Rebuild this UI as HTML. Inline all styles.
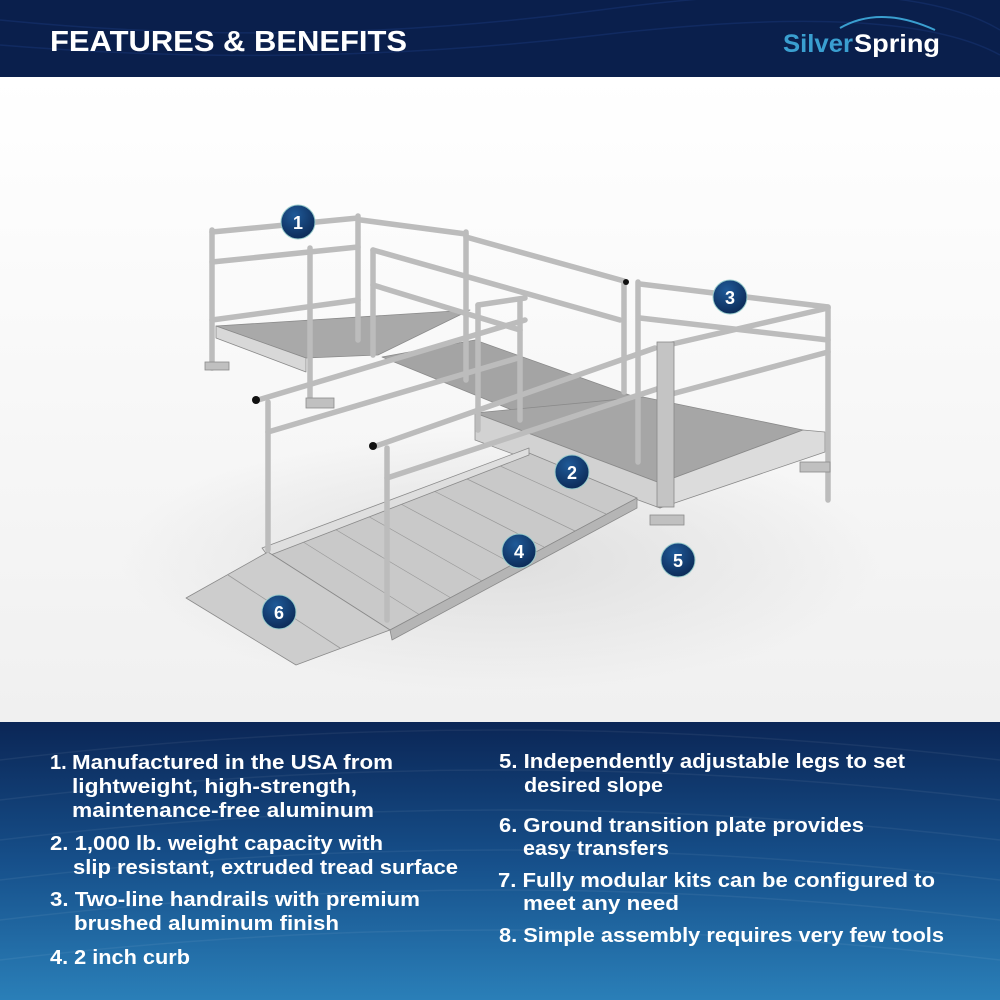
<!DOCTYPE html>
<html><head><meta charset="utf-8"><style>
html,body{margin:0;padding:0;width:1000px;height:1000px;overflow:hidden;background:#fff}
svg{display:block}
</style></head><body>
<svg width="1000" height="1000" viewBox="0 0 1000 1000" xmlns="http://www.w3.org/2000/svg" font-family="Liberation Sans, sans-serif">
<defs>
<linearGradient id="bot" x1="0" y1="0" x2="0" y2="1">
<stop offset="0" stop-color="#0b2656"/><stop offset="0.5" stop-color="#164f8a"/><stop offset="1" stop-color="#2a7fb8"/></linearGradient>
<linearGradient id="bg" x1="0" y1="0" x2="0" y2="1">
<stop offset="0" stop-color="#ffffff"/><stop offset="1" stop-color="#f0f0f0"/></linearGradient>
<radialGradient id="badge" cx="0.4" cy="0.3" r="0.8">
<stop offset="0" stop-color="#1f5a98"/><stop offset="1" stop-color="#0a2550"/></radialGradient>
<radialGradient id="shadow" cx="0.5" cy="0.5" r="0.5">
<stop offset="0" stop-color="#dedede"/><stop offset="1" stop-color="#dedede" stop-opacity="0"/></radialGradient>
<clipPath id="hc"><rect x="0" y="0" width="1000" height="77"/></clipPath>
</defs>
<rect x="0" y="77" width="1000" height="646" fill="url(#bg)"/>
<ellipse cx="500" cy="560" rx="380" ry="130" fill="url(#shadow)"/>
<!-- header -->
<rect x="0" y="0" width="1000" height="77" fill="#0a1f4c"/>
<g stroke="#15306a" stroke-width="1.5" fill="none" opacity="0.7" clip-path="url(#hc)">
<path d="M0 20 Q300 50 600 10 T1000 30"/><path d="M0 45 Q300 70 600 35 T1000 55"/>
</g>
<text x="50" y="51" font-size="29" font-weight="bold" fill="#fff" textLength="357" lengthAdjust="spacingAndGlyphs">FEATURES &amp; BENEFITS</text>
<path d="M840 28 Q880 5 935 30" stroke="#3a9fd0" stroke-width="2" fill="none"/>
<text x="783" y="52" font-size="25" font-weight="bold" fill="#3a9fd0" textLength="70" lengthAdjust="spacingAndGlyphs">Silver</text>
<text x="854" y="52" font-size="25" font-weight="bold" fill="#fff" textLength="86" lengthAdjust="spacingAndGlyphs">Spring</text>

<!-- ramp drawing -->
<g stroke="#8a8a8a" stroke-width="0.8" stroke-linejoin="round">
<polygon points="216,326 470,310 378,355 306,358" fill="#a9a9a9"/>
<polygon points="216,326 306,358 306,372 216,338" fill="#d8d8d8"/>
<polygon points="382,357 475,340 635,397 529,417" fill="#a4a4a4"/>
<polygon points="475,413 643,397 803,430 660,483" fill="#a6a6a6"/>
<polygon points="660,483 803,430 825,432 825,452 660,508" fill="#dcdcdc"/>
<polygon points="475,413 660,483 660,508 475,440" fill="#d2d2d2"/>
<polygon points="268,552 529,453 637,498 390,630" fill="#c9c9c9"/>
<g stroke="#9a9a9a" stroke-width="0.7">
<line x1="300" y1="540" x2="420" y2="615"/><line x1="333" y1="528" x2="451" y2="598"/><line x1="366" y1="515" x2="482" y2="581"/>
<line x1="399" y1="503" x2="513" y2="564"/><line x1="432" y1="490" x2="544" y2="547"/><line x1="465" y1="478" x2="575" y2="531"/><line x1="498" y1="465" x2="606" y2="514"/>
</g>
<polygon points="390,630 637,498 637,508 392,640" fill="#b5b5b5"/>
<polygon points="262,548 529,448 529,455 268,556" fill="#dedede"/>
<polygon points="186,598 268,552 390,630 296,665" fill="#cdcdcd"/>
<line x1="228" y1="575" x2="340" y2="648" stroke="#9a9a9a"/>
</g>
<g stroke="#bcbcbc" stroke-width="5.5" stroke-linecap="round" fill="none">
<line x1="212" y1="230" x2="212" y2="368"/>
<line x1="358" y1="216" x2="358" y2="340"/>
<line x1="310" y1="248" x2="310" y2="400"/>
<line x1="373" y1="250" x2="373" y2="355"/>
<line x1="466" y1="232" x2="466" y2="380"/>
<line x1="624" y1="282" x2="624" y2="392"/>
<line x1="212" y1="232" x2="358" y2="218"/>
<line x1="212" y1="262" x2="358" y2="247"/>
<line x1="361" y1="220" x2="466" y2="234"/>
<line x1="466" y1="237" x2="624" y2="281"/>
<line x1="373" y1="250" x2="620" y2="320"/>
<line x1="373" y1="285" x2="520" y2="330"/>
<line x1="212" y1="320" x2="358" y2="300"/>
<line x1="478" y1="305" x2="525" y2="298"/>
<line x1="478" y1="305" x2="478" y2="430"/>
<line x1="520" y1="300" x2="520" y2="420"/>
<line x1="638" y1="282" x2="638" y2="462"/>
<line x1="828" y1="307" x2="828" y2="500"/>
<line x1="640" y1="284" x2="828" y2="307"/>
<line x1="640" y1="318" x2="828" y2="340"/>
<line x1="668" y1="345" x2="828" y2="308"/>
<line x1="668" y1="395" x2="828" y2="352"/>
<line x1="258" y1="400" x2="525" y2="320"/>
<line x1="268" y1="432" x2="518" y2="358"/>
<line x1="268" y1="402" x2="268" y2="550"/>
<line x1="376" y1="446" x2="655" y2="348"/>
<line x1="387" y1="478" x2="660" y2="388"/>
<line x1="387" y1="448" x2="387" y2="620"/>
</g>
<rect x="657" y="342" width="17" height="165" fill="#c4c4c4" stroke="#8a8a8a" stroke-width="0.8"/>
<g fill="#c0c0c0" stroke="#8a8a8a" stroke-width="0.8">
<rect x="205" y="362" width="24" height="8"/><rect x="306" y="398" width="28" height="10"/>
<rect x="650" y="515" width="34" height="10"/><rect x="800" y="462" width="30" height="10"/>
</g>
<circle cx="256" cy="400" r="4" fill="#111"/><circle cx="373" cy="446" r="4" fill="#111"/><circle cx="626" cy="282" r="3" fill="#111"/>

<g font-size="18" font-weight="bold" fill="#fff" text-anchor="middle">
<g><circle cx="298" cy="222" r="17" fill="url(#badge)" stroke="#9cc" stroke-width="1"/><text x="298" y="229">1</text></g>
<g><circle cx="572" cy="472" r="17" fill="url(#badge)" stroke="#9cc" stroke-width="1"/><text x="572" y="479">2</text></g>
<g><circle cx="730" cy="297" r="17" fill="url(#badge)" stroke="#9cc" stroke-width="1"/><text x="730" y="304">3</text></g>
<g><circle cx="519" cy="551" r="17" fill="url(#badge)" stroke="#9cc" stroke-width="1"/><text x="519" y="558">4</text></g>
<g><circle cx="678" cy="560" r="17" fill="url(#badge)" stroke="#9cc" stroke-width="1"/><text x="678" y="567">5</text></g>
<g><circle cx="279" cy="612" r="17" fill="url(#badge)" stroke="#9cc" stroke-width="1"/><text x="279" y="619">6</text></g>
</g>

<rect x="0" y="722" width="1000" height="278" fill="url(#bot)"/>
<g stroke="#ffffff" stroke-opacity="0.06" stroke-width="1.5" fill="none">
<path d="M0 760 Q500 700 1000 760"/><path d="M0 800 Q500 740 1000 800"/><path d="M0 840 Q500 780 1000 840"/><path d="M0 880 Q500 820 1000 880"/><path d="M0 920 Q500 860 1000 920"/><path d="M0 960 Q500 900 1000 960"/>
</g>
<g font-size="20" font-weight="bold" fill="#fff">
<text x="50" y="769">1.</text>
<text x="72" y="769" textLength="321" lengthAdjust="spacingAndGlyphs">Manufactured in the USA from</text>
<text x="72" y="793" textLength="285" lengthAdjust="spacingAndGlyphs">lightweight, high-strength,</text>
<text x="72" y="817" textLength="302" lengthAdjust="spacingAndGlyphs">maintenance-free aluminum</text>
<text x="50" y="850" textLength="333" lengthAdjust="spacingAndGlyphs">2. 1,000 lb. weight capacity with</text>
<text x="73" y="874" textLength="385" lengthAdjust="spacingAndGlyphs">slip resistant, extruded tread surface</text>
<text x="50" y="906" textLength="370" lengthAdjust="spacingAndGlyphs">3. Two-line handrails with premium</text>
<text x="74" y="930" textLength="265" lengthAdjust="spacingAndGlyphs">brushed aluminum finish</text>
<text x="50" y="964" textLength="140" lengthAdjust="spacingAndGlyphs">4. 2 inch curb</text>
<text x="499" y="768" textLength="406" lengthAdjust="spacingAndGlyphs">5. Independently adjustable legs to set</text>
<text x="524" y="792" textLength="139" lengthAdjust="spacingAndGlyphs">desired slope</text>
<text x="499" y="832" textLength="365" lengthAdjust="spacingAndGlyphs">6. Ground transition plate provides</text>
<text x="523" y="855" textLength="146" lengthAdjust="spacingAndGlyphs">easy transfers</text>
<text x="498" y="887" textLength="437" lengthAdjust="spacingAndGlyphs">7. Fully modular kits can be configured to</text>
<text x="523" y="910" textLength="156" lengthAdjust="spacingAndGlyphs">meet any need</text>
<text x="499" y="942" textLength="445" lengthAdjust="spacingAndGlyphs">8. Simple assembly requires very few tools</text>
</g>
</svg>
</body></html>
